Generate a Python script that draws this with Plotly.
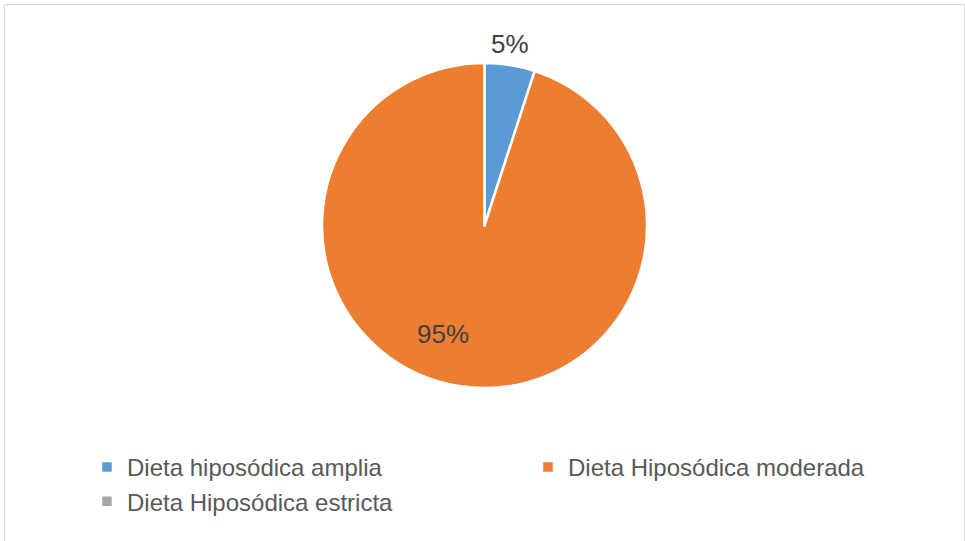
import plotly.graph_objects as go

# Data
categories = ["Dieta hiposódica amplia", "Dieta Hiposódica moderada", "Dieta Hiposódica estricta"]
values = [5, 95, 0]
colors = ["#5B9BD5", "#ED7D31", "#A5A5A5"]

W, H = 965, 541
cx, cy, r = 484.5, 225.5, 162.5  # pie centre and radius in pixels

total = sum(values)
pct = [v / total * 100 for v in values]

fig = go.Figure(
    go.Pie(
        labels=categories,
        values=values,
        sort=False,
        direction="clockwise",
        rotation=0,
        marker=dict(colors=colors, line=dict(color="white", width=2.5)),
        textinfo="none",
        hoverinfo="label+percent",
        domain=dict(
            x=[(cx - r) / W, (cx + r) / W],
            y=[(H - cy - r) / H, (H - cy + r) / H],
        ),
    )
)

# Percentage labels placed like the original data labels
label_pos = {0: (510, 44), 1: (443, 334)}
for i, (px, py) in label_pos.items():
    fig.add_annotation(
        x=px / W, y=1 - py / H, xref="paper", yref="paper",
        text=f"{pct[i]:.0f}%", showarrow=False,
        font=dict(family="Liberation Sans, Arial, sans-serif", size=26, color="#404040"),
        xanchor="center", yanchor="middle",
    )

# Chart area frame
fig.add_shape(
    type="rect", xref="paper", yref="paper",
    x0=4.5 / W, x1=964.5 / W, y0=-0.05, y1=1 - 4.5 / H,
    line=dict(color="#D9D9D9", width=1), fillcolor="rgba(0,0,0,0)",
)

fig.update_layout(
    width=W, height=H,
    margin=dict(l=0, r=0, t=0, b=0, autoexpand=False),
    paper_bgcolor="white",
    plot_bgcolor="white",
    showlegend=True,
    legend=dict(
        orientation="h",
        x=87 / W, xanchor="left",
        y=1 - 445 / H, yanchor="top",
        font=dict(family="Liberation Sans, Arial, sans-serif", size=24, color="#595959"),
        entrywidth=396,
        itemwidth=30,
        bgcolor="rgba(0,0,0,0)",
    ),
)

fig.write_html("out.html")
